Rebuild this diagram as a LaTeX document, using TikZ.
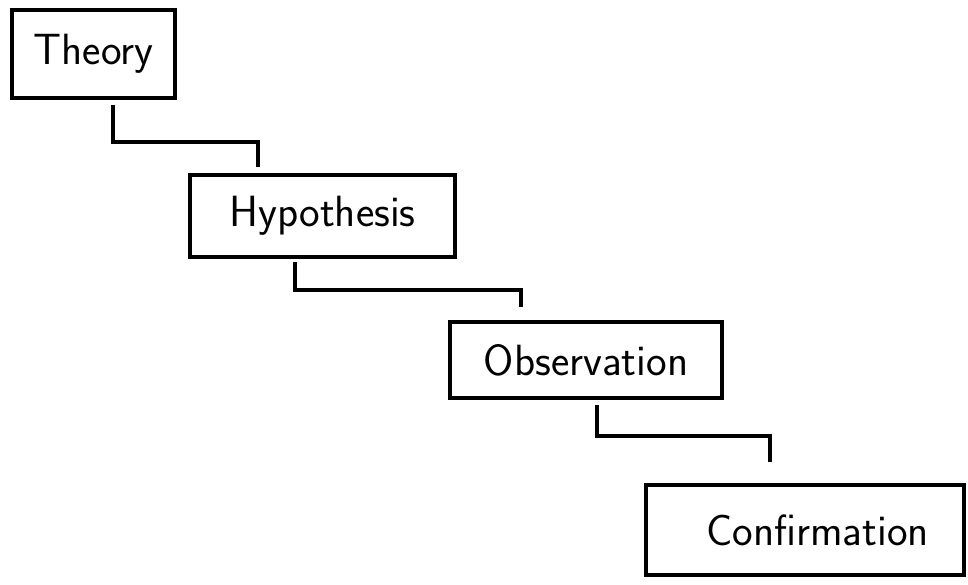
\documentclass[tikz,border=0pt]{standalone}
\usepackage{amsmath,amssymb}
\usepackage[dvipsnames]{xcolor}
\usepackage{tikz}

\begin{document}
\begin{tikzpicture}[box/.style={draw, line width=2.2pt, font=\Huge\sffamily, inner sep=0pt},
    link/.style={line width=2.2pt}]
            \useasboundingbox (0,0) rectangle (19.36,-11.7);
            \node[box, minimum width=3.26cm, minimum height=1.76cm] (theory) at (1.87,-1.08) {Theory};
            \node[box, minimum width=5.3cm, minimum height=1.64cm] (hyp) at (6.45,-4.32) {Hypothesis};
            \node[box, minimum width=5.44cm, minimum height=1.52cm] (obs) at (11.72,-7.2) {Observation};
            \node[box, minimum width=6.36cm, minimum height=1.8cm] (conf) at (16.1,-10.6) {\hspace{0.5cm}Confirmation};
            \coordinate (a1) at (2.26,-2.1);
            \coordinate (b1) at (5.16,-2.84);
            \coordinate (c1) at (5.16,-3.34);
            \coordinate (a2) at (5.9,-5.24);
            \coordinate (b2) at (10.42,-5.8);
            \coordinate (c2) at (10.42,-6.14);
            \coordinate (a3) at (11.94,-8.1);
            \coordinate (b3) at (15.4,-8.72);
            \coordinate (c3) at (15.4,-9.24);
            \draw[link] (a1) |- (b1) -- (c1);
            \draw[link] (a2) |- (b2) -- (c2);
            \draw[link] (a3) |- (b3) -- (c3);
        \end{tikzpicture}
\end{document}
